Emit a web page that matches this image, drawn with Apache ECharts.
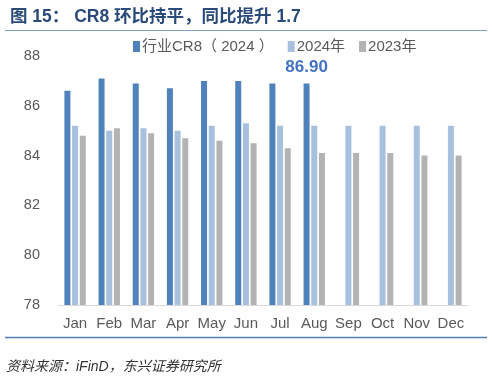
<!DOCTYPE html>
<html><head><meta charset="utf-8">
<script src="https://cdn.jsdelivr.net/npm/echarts@6/dist/echarts.min.js"></script>
<style>html,body{margin:0;padding:0;background:#fff;}#c{width:492px;height:380px;}</style>
</head><body><div id="c"></div>
<script>
const months = ['Jan','Feb','Mar','Apr','May','Jun','Jul','Aug','Sep','Oct','Nov','Dec'];
const cr8_2024_industry = [86.6, 87.1, 86.9, 86.7, 87.0, 87.0, 86.9, 86.9, null, null, null, null];
const y2024 = [85.2, 85.0, 85.1, 85.0, 85.2, 85.3, 85.2, 85.2, 85.2, 85.2, 85.2, 85.2];
const y2023 = [84.8, 85.1, 84.9, 84.7, 84.6, 84.5, 84.3, 84.1, 84.1, 84.1, 84.0, 84.0];
const yTicks = [78, 80, 82, 84, 86, 88];
const seriesNames = ['行业CR8（ 2024 ）', '2024年', '2023年'];
const labelIndex = 7;

const chart = echarts.init(document.getElementById('c'));
const font = '"Liberation Sans", Arial, "Noto Sans CJK SC", sans-serif';
chart.setOption({
  animation: false,
  textStyle: { fontFamily: font },
  title: {
    text: '图 15： CR8 环比持平，同比提升 1.7',
    left: 5, top: 3,
    textStyle: { fontSize: 17.5, fontWeight: 'bold', color: '#2a4a7a', fontFamily: font }
  },
  legend: {
    data: seriesNames,
    left: 128, top: 34,
    itemWidth: 7, itemHeight: 11, itemGap: 14,
    icon: 'rect',
    textStyle: { fontSize: 15, color: '#595959', padding: [0, 0, 0, -3] }
  },
  grid: { left: 58, right: 24, top: 56, bottom: 75 },
  xAxis: {
    type: 'category', data: months,
    axisLine: { lineStyle: { color: '#d9d9d9', width: 1 } },
    axisTick: { show: false },
    axisLabel: { fontSize: 15, color: '#595959', margin: 11, interval: 0 }
  },
  yAxis: {
    type: 'value', min: yTicks[0], max: yTicks[yTicks.length - 1], interval: 2,
    splitLine: { show: false },
    axisLine: { show: false },
    axisTick: { show: false },
    axisLabel: { fontSize: 14.5, color: '#595959', margin: 18 }
  },
  series: [
    {
      name: seriesNames[0], type: 'bar', data: cr8_2024_industry.map((v, i) => i === labelIndex ? {
        value: v, label: { show: true, position: 'top', distance: 8, formatter: (p) => p.value.toFixed(2), fontSize: 17, fontWeight: 'bold', color: '#4472c4' }
      } : v),
      barWidth: 6, barGap: '28%',
      itemStyle: { color: '#4f81bd' }
    },
    { name: seriesNames[1], type: 'bar', data: y2024, barWidth: 6, barGap: '28%', itemStyle: { color: '#a7c0de' } },
    { name: seriesNames[2], type: 'bar', data: y2023, barWidth: 6, barGap: '28%', itemStyle: { color: '#b3b3b3' } }
  ],
  graphic: [
    { type: 'line', shape: { x1: 5, y1: 30.5, x2: 487, y2: 30.5 }, style: { stroke: '#7f9fc4', lineWidth: 1 } },
    { type: 'line', shape: { x1: 5, y1: 337.5, x2: 487, y2: 337.5 }, style: { stroke: '#4f7fae', lineWidth: 1.5 } },
    { type: 'text', left: 6, top: 360, style: { text: '资料来源：iFinD，东兴证券研究所', fontSize: 14, fontStyle: 'italic', fill: '#333', fontFamily: font } }
  ]
});
</script></body></html>
